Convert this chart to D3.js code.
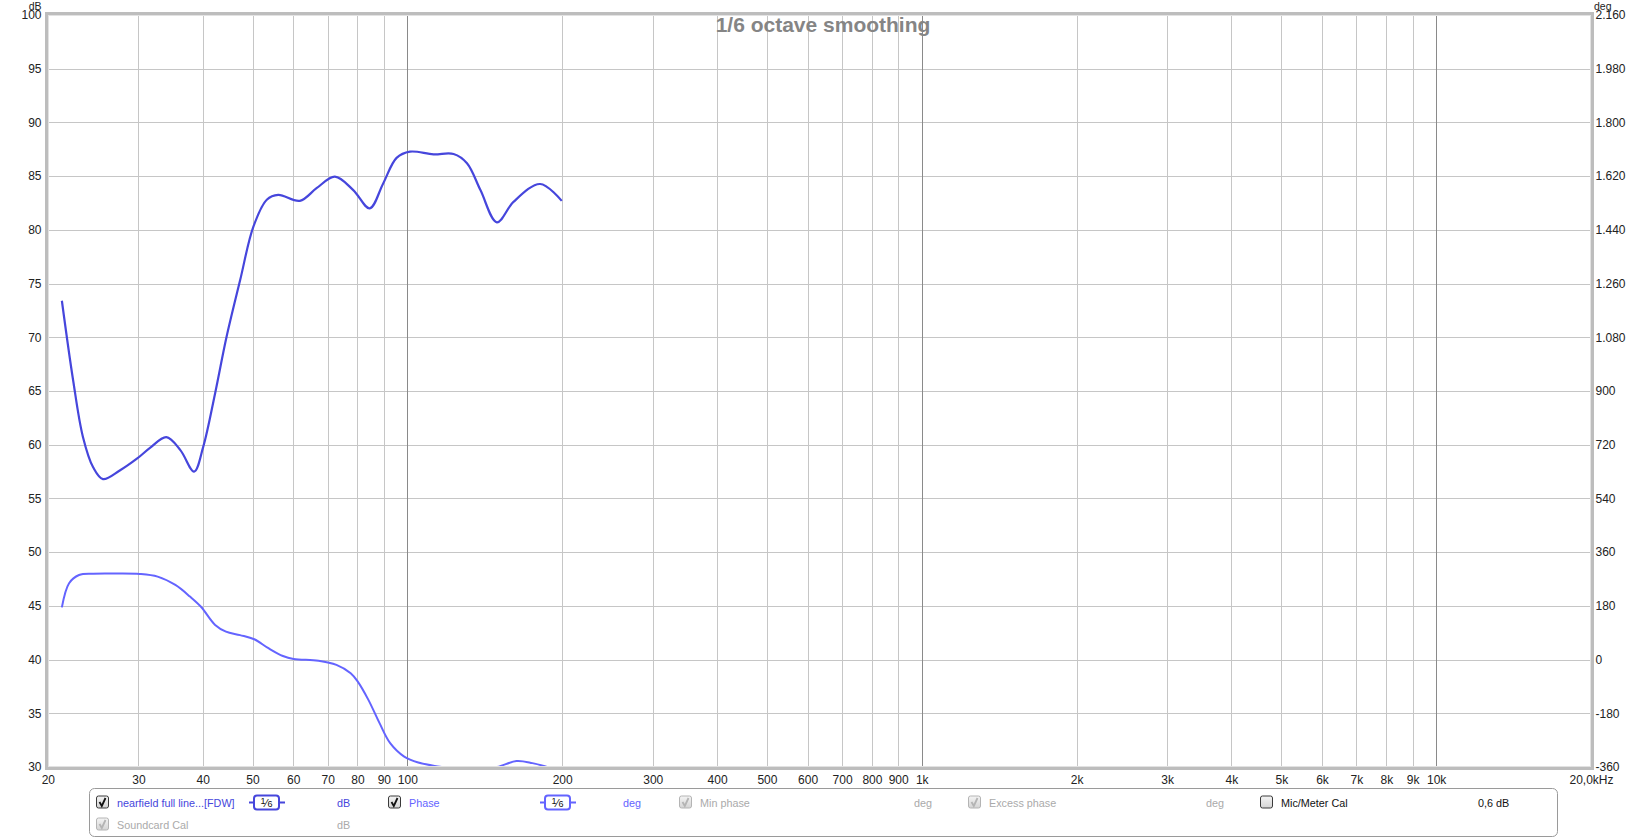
<!DOCTYPE html>
<html lang="en">
<head>
<meta charset="UTF-8">
<title>1/6 octave smoothing</title>
<script src="https://cdn.jsdelivr.net/npm/d3@7/dist/d3.min.js"></script>
<style>
  html, body { margin: 0; padding: 0; background: #fff; }
  svg { display: block; font-family: "Liberation Sans", Arial, sans-serif; }
  .axis path, .axis line { display: none; }
  .axis text { font-size: 12px; fill: #222; }
  .legend text { font-size: 10.8px; dominant-baseline: central; }
</style>
</head>
<body>
<svg id="chart" width="1649" height="839"></svg>
<script>
// frequency axis
var freqTicks = [20, 30, 40, 50, 60, 70, 80, 90, 100, 200, 300, 400, 500, 600, 700, 800, 900,
                 1000, 2000, 3000, 4000, 5000, 6000, 7000, 8000, 9000, 10000, 20000];
var freqLabels = ["20", "30", "40", "50", "60", "70", "80", "90", "100", "200", "300", "400", "500",
                  "600", "700", "800", "900", "1k", "2k", "3k", "4k", "5k", "6k", "7k", "8k", "9k",
                  "10k", "20,0kHz"];
var decadeLines = [100, 1000, 10000];

// level / phase axes
var dbTicks = [30, 35, 40, 45, 50, 55, 60, 65, 70, 75, 80, 85, 90, 95, 100];
var degTicks = [-360, -180, 0, 180, 360, 540, 720, 900, 1080, 1260, 1440, 1620, 1800, 1980, 2160];

// SPL trace, 1/6 oct smoothed (Hz, dB)
var splFreq = [21.3, 22.4, 23.4, 24.5, 25.6, 27.6, 29.8, 31.6, 34.0, 36.2, 38.5, 40.1, 42.3, 44.5,
               47.3, 50.2, 53.3, 56.1, 61.8, 66.7, 72.3, 78.5, 84.5, 89.7, 95.3, 101.2, 112.4,
               123, 130.6, 138.7, 149.3, 160.8, 181.2, 199.6];
var splDb = [73.4, 66.0, 60.75, 57.9, 56.8, 57.6, 58.7, 59.7, 60.7, 59.5, 57.5, 59.8, 64.8, 70.0,
             75.3, 80.3, 82.8, 83.25, 82.7, 83.9, 84.95, 83.7, 82.0, 84.3, 86.7, 87.28, 87.03,
             87.06, 86.2, 83.7, 80.7, 82.6, 84.27, 82.7];

// phase trace (Hz, deg)
var phaseFreq = [21.3, 22.0, 23.0, 24.5, 27, 30.2, 32.7, 35.4, 37.8, 39.7, 42.3, 44.4, 47.3, 50.4,
                 53.7, 57.3, 60.1, 67.2, 72.8, 77.6, 80.1, 84.0, 88.3, 92.6, 98.6, 105, 115.6,
                 125, 138, 149.5, 163, 175, 187, 199.6];
var phaseDeg = [175, 256, 283.5, 288, 288.5, 287, 278, 250, 211, 177, 116, 93.5, 82, 68,
                38, 12, 2, -4, -18, -46, -74, -135, -213, -280, -325, -345, -359,
                -368, -366, -360, -340, -347, -360, -375];

var legendRow1 = [
  {label: "nearfield full line...[FDW]", box: "on", color: "#4646dc", x: 96},
  {label: "Phase", box: "on", color: "#6464ff", x: 388},
  {label: "Min phase", box: "off-dis", color: "#aaaaaa", x: 679},
  {label: "Excess phase", box: "off-dis", color: "#aaaaaa", x: 968},
  {label: "Mic/Meter Cal", box: "empty", color: "#111111", x: 1260}
];

var svg = d3.select("#chart"),
    W = 1649, H = 839;

var x = d3.scaleLog().domain([20, 20000]).range([47.8, 1591]),
    yDb = d3.scaleLinear().domain([30, 100]).range([767, 15]),
    yDeg = d3.scaleLinear().domain([-360, 2160]).range([767, 15]);

var deFmt = d3.formatLocale({decimal: ",", thousands: ".", grouping: [3], currency: ["", ""], minus: "-"}).format(",d");

svg.append("rect").attr("width", W).attr("height", H).attr("fill", "#fff");

// grid
var grid = svg.append("g");
grid.selectAll(".hg").data(dbTicks.slice(1, -1)).enter().append("line")
    .attr("x1", x(20)).attr("x2", x(20000))
    .attr("y1", function(d){ return Math.round(yDb(d)) + 0.5; })
    .attr("y2", function(d){ return Math.round(yDb(d)) + 0.5; })
    .attr("stroke", "#c6c6c6");
grid.selectAll(".vg").data(freqTicks.slice(1, -1)).enter().append("line")
    .attr("x1", function(d){ return Math.round(x(d)) + 0.5; })
    .attr("x2", function(d){ return Math.round(x(d)) + 0.5; })
    .attr("y1", yDb(100)).attr("y2", yDb(30))
    .attr("stroke", function(d){ return decadeLines.indexOf(d) >= 0 ? "#8a8a8a" : "#c6c6c6"; });

// title
svg.append("text").attr("x", 823).attr("y", 32).attr("text-anchor", "middle")
    .attr("font-size", "21px").attr("font-weight", "bold").attr("fill", "#858585")
    .text("1/6 octave smoothing");

// curves
svg.append("clipPath").attr("id", "plotclip").append("rect")
    .attr("x", x(20)).attr("y", yDb(100)).attr("width", x(20000) - x(20)).attr("height", yDb(30) - yDb(100));

var splLine = d3.line().curve(d3.curveCatmullRom.alpha(0.5))
    .x(function(d){ return x(d[0]); }).y(function(d){ return yDb(d[1]); });
var phaseLine = d3.line().curve(d3.curveCatmullRom.alpha(0.5))
    .x(function(d){ return x(d[0]); }).y(function(d){ return yDeg(d[1]); });

var curves = svg.append("g").attr("clip-path", "url(#plotclip)");
curves.append("path").datum(d3.zip(phaseFreq, phaseDeg))
    .attr("d", phaseLine).attr("fill", "none").attr("stroke", "#6464ff").attr("stroke-width", 2);
curves.append("path").datum(d3.zip(splFreq, splDb))
    .attr("d", splLine).attr("fill", "none").attr("stroke", "#4646dc").attr("stroke-width", 2.2);

// plot frame
svg.append("rect").attr("x", 46.5).attr("y", 13.5).attr("width", 1546).attr("height", 755)
    .attr("fill", "none").attr("stroke", "#bdbdbd").attr("stroke-width", 3);
svg.append("rect").attr("x", 48.5).attr("y", 15.5).attr("width", 1542).attr("height", 751)
    .attr("fill", "none").attr("stroke", "#e2e2e2").attr("stroke-width", 1);

// axes
svg.append("g").attr("class", "axis").attr("transform", "translate(41.5,0)")
    .call(d3.axisLeft(yDb).tickValues(dbTicks).tickSize(0).tickPadding(0).tickFormat(d3.format("d")));
svg.append("g").attr("class", "axis").attr("transform", "translate(1595.5,0)")
    .call(d3.axisRight(yDeg).tickValues(degTicks).tickSize(0).tickPadding(0).tickFormat(deFmt));
svg.append("g").attr("class", "axis").attr("transform", "translate(0,767)")
    .call(d3.axisBottom(x).tickValues(freqTicks).tickSize(0).tickPadding(8)
      .tickFormat(function(d, i){ return freqLabels[i]; }));
svg.append("text").attr("x", 41.5).attr("y", 9.5).attr("text-anchor", "end")
    .attr("font-size", "10.5px").attr("fill", "#222").text("dB");
svg.append("text").attr("x", 1594).attr("y", 9.5)
    .attr("font-size", "10.5px").attr("fill", "#222").text("deg");

// legend panel
var lg = svg.append("g").attr("class", "legend");
lg.append("rect").attr("x", 89.5).attr("y", 788.5).attr("width", 1468).attr("height", 48).attr("rx", 5)
    .attr("fill", "#fff").attr("stroke", "#9a9a9a");

var defs = svg.append("defs");
var gr = defs.append("linearGradient").attr("id", "cbfill").attr("x1", 0).attr("y1", 0).attr("x2", 0).attr("y2", 1);
gr.append("stop").attr("offset", 0).attr("stop-color", "#f4f4f4");
gr.append("stop").attr("offset", 1).attr("stop-color", "#d4d4d4");

function checkbox(g, cx, cy, state) {
  var dis = state === "off-dis";
  g.append("rect").attr("x", cx + 0.5).attr("y", cy - 6.5).attr("width", 12).attr("height", 12).attr("rx", 2)
      .attr("fill", "url(#cbfill)").attr("stroke", dis ? "#b4b4b4" : "#3a3a3a");
  if (state !== "empty") {
    g.append("path").attr("d", "M" + (cx + 3.5) + "," + (cy - 0.5) + " L" + (cx + 5.8) + "," + (cy + 3.5)
        + " L" + (cx + 9.5) + "," + (cy - 4.5))
      .attr("fill", "none").attr("stroke", dis ? "#b4b4b4" : "#111").attr("stroke-width", 1.8);
  }
}

function smoothIcon(g, x0, cy, color) {
  g.append("line").attr("x1", x0).attr("x2", x0 + 36).attr("y1", cy).attr("y2", cy)
      .attr("stroke", color).attr("stroke-width", 2);
  g.append("rect").attr("x", x0 + 5).attr("y", cy - 7).attr("width", 25).attr("height", 14).attr("rx", 3)
      .attr("fill", "#fff").attr("stroke", color).attr("stroke-width", 2);
  var t = g.append("text").attr("x", x0 + 17.5).attr("y", cy + 0.5).attr("text-anchor", "middle")
      .attr("fill", "#111").style("dominant-baseline", "central");
  t.append("tspan").attr("font-size", "9px").attr("dy", -2).text("1");
  t.append("tspan").attr("font-size", "11px").attr("dy", 2).text("\u2044");
  t.append("tspan").attr("font-size", "9px").attr("dy", 1).text("6");
}

var row1 = 802.5, row2 = 824.5;
legendRow1.forEach(function(it) {
  checkbox(lg, it.x, row1, it.box);
  lg.append("text").attr("x", it.x + 21).attr("y", row1).attr("fill", it.color).text(it.label);
});
smoothIcon(lg, 249, row1, "#4646dc");
smoothIcon(lg, 540, row1, "#6464ff");
lg.append("text").attr("x", 337).attr("y", row1).attr("fill", "#4646dc").text("dB");
lg.append("text").attr("x", 623).attr("y", row1).attr("fill", "#6464ff").text("deg");
lg.append("text").attr("x", 914).attr("y", row1).attr("fill", "#aaaaaa").text("deg");
lg.append("text").attr("x", 1206).attr("y", row1).attr("fill", "#aaaaaa").text("deg");
lg.append("text").attr("x", 1478).attr("y", row1).attr("fill", "#111").text("0,6 dB");

checkbox(lg, 96, row2, "off-dis");
lg.append("text").attr("x", 117).attr("y", row2).attr("fill", "#aaaaaa").text("Soundcard Cal");
lg.append("text").attr("x", 337).attr("y", row2).attr("fill", "#aaaaaa").text("dB");
</script>
</body>
</html>
